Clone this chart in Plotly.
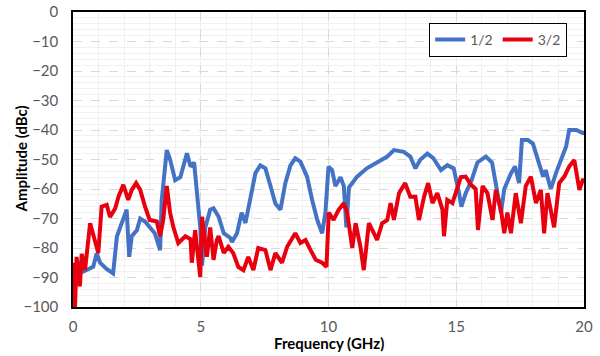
import plotly.graph_objects as go

# Series 1/2 (blue)
freq_half = [0.0, 0.14, 0.4, 0.79, 0.93, 1.06, 1.3, 1.57, 1.72, 1.97, 2.1, 2.2, 2.3, 2.5, 2.63, 2.82,
             3.02, 3.2, 3.41, 3.47, 3.67, 3.8, 4.0, 4.2, 4.46, 4.6, 4.74, 4.85, 4.98, 5.05, 5.18, 5.37,
             5.5, 5.7, 5.9, 6.16, 6.22, 6.42, 6.6, 6.75, 6.94, 7.14, 7.33, 7.53, 7.73, 7.92, 8.12, 8.31,
             8.51, 8.7, 8.9, 9.16, 9.36, 9.56, 9.75, 9.88, 10.0, 10.14, 10.27, 10.47, 10.6, 10.7, 10.8,
             10.98, 11.12, 11.5, 11.9, 12.3, 12.56, 12.95, 13.2, 13.4, 13.6, 13.87, 14.1, 14.4, 14.65,
             14.9, 15.1, 15.2, 15.37, 15.6, 15.83, 16.16, 16.4, 16.6, 16.75, 16.88, 17.14, 17.3, 17.46,
             17.57, 17.8, 18.0, 18.18, 18.4, 18.5, 18.7, 18.9, 19.1, 19.3, 19.42, 19.7, 19.95, 20.0]
amp_half = [-87, -88.5, -88, -86.4, -81.8, -85, -87, -88.6, -76, -70, -67, -83, -76, -74, -70, -71,
            -73, -75, -80.7, -64, -46.8, -50, -57, -56, -47.9, -52.4, -51, -62.6, -73, -86, -73, -67,
            -66.5, -69.4, -75, -76.6, -78, -75, -68, -71.5, -62.6, -54.6, -52, -53, -59, -64.9, -67, -58,
            -52, -49.6, -50.7, -55.8, -63.7, -70.5, -75, -68, -52.4, -53.6, -59, -56, -59, -73, -59.5,
            -57.6, -55.8, -53, -51, -49, -46.8, -47.4, -49, -53, -50, -48, -49.5, -53.6, -51.9,
            -53, -61, -66, -61.4, -57, -51, -49, -51, -60, -68, -60, -54.7, -52.4, -58,
            -43.4, -43.4, -44.6, -50, -55.8, -53.6, -60, -54.7, -50, -45.6, -40, -40, -41, -41]

# Series 3/2 (red)
freq_3half = [0.0, 0.08, 0.14, 0.27, 0.34, 0.47, 0.67, 0.8, 0.99, 1.12, 1.32, 1.45, 1.65, 1.78, 1.97,
              2.16, 2.3, 2.47, 2.63, 2.82, 3.0, 3.28, 3.41, 3.53, 3.67, 3.8, 3.93, 4.12, 4.4, 4.6, 4.65,
              4.78, 4.98, 5.05, 5.24, 5.37, 5.5, 5.63, 5.7, 5.9, 6.08, 6.27, 6.47, 6.67, 6.86, 7.06,
              7.25, 7.53, 7.73, 7.92, 8.18, 8.38, 8.7, 8.9, 9.1, 9.3, 9.5, 9.75, 9.92, 10.01, 10.2,
              10.4, 10.6, 10.73, 10.93, 11.06, 11.25, 11.38, 11.58, 11.78, 11.9, 12.1, 12.3, 12.43,
              12.56, 12.76, 13.0, 13.2, 13.4, 13.54, 13.74, 13.9, 14.07, 14.26, 14.46, 14.52, 14.65,
              14.85, 14.98, 15.18, 15.37, 15.57, 15.76, 15.85, 16.03, 16.22, 16.42, 16.55, 16.75,
              16.88, 17.0, 17.14, 17.33, 17.53, 17.72, 17.92, 18.12, 18.31, 18.44, 18.57, 18.83,
              19.03, 19.23, 19.42, 19.62, 19.82, 19.95, 20.0]
amp_3half = [-85, -100, -83, -93, -82, -87.5, -71.6, -76, -81.7, -66, -65.4, -69.5, -66.6, -62.6, -58.6,
             -63.7, -60.3, -58, -60.3, -66, -70.5, -71, -76, -70.5, -59, -68, -73, -78.3, -76, -77, -85,
             -74, -89.8, -69.4, -83, -73, -84, -77.3, -76, -81.7, -79.6, -81.7, -86.4, -87.5, -83, -87.5,
             -80, -80.7, -87.5, -81.7, -85, -79.6, -75, -78.3, -77.3, -80.7, -84, -85, -86.4, -68, -70.5,
             -67, -64.8, -68, -80, -71.6, -79.6, -87.5, -71.6, -75, -77.3, -71.6, -70.5, -64.8,
             -70.5, -61.4, -58, -62.6, -62.6, -70.5, -62.6, -58, -64.8, -61.4, -67, -76, -63.7,
             -64.8, -61.4, -56, -55.8, -58.5, -60, -73.9, -59, -61.4, -70.5, -60.3, -67,
             -75, -68, -75, -61.4, -71.6, -59, -55.8, -64.8, -60.3, -75, -61.4, -73,
             -58, -55.8, -52.4, -50.2, -60.3, -57, -57]

FONT = "Lato"
GRAY = "#595959"

fig = go.Figure()
fig.add_trace(go.Scatter(x=freq_half, y=amp_half, mode="lines", name="1/2",
                         line=dict(color="#4472C4", width=4)))
fig.add_trace(go.Scatter(x=freq_3half, y=amp_3half, mode="lines", name="3/2",
                         line=dict(color="#E8000F", width=4)))

fig.update_layout(
    width=600, height=356,
    margin=dict(l=73, r=16, t=12, b=49, autoexpand=False),
    paper_bgcolor="white", plot_bgcolor="white",
    font=dict(family=FONT, size=15, color=GRAY),
    showlegend=True,
    legend=dict(orientation="h", x=0.967, xanchor="right", y=0.963, yanchor="top",
                bordercolor="black", borderwidth=1, bgcolor="white",
                font=dict(size=14, color=GRAY), itemwidth=30, tracegroupgap=0),
    annotations=[
        dict(text="<b>Frequency (GHz)</b>", xref="paper", yref="paper", x=0.5, y=0,
             yshift=-36, xanchor="center", yanchor="middle", showarrow=False,
             font=dict(family=FONT, size=15, color="black")),
        dict(text="<b>Amplitude (dBc)</b>", xref="paper", yref="paper", x=0, y=0.5,
             xshift=-53, xanchor="center", yanchor="middle", textangle=-90, showarrow=False,
             font=dict(family=FONT, size=15, color="black")),
    ],
)
fig.update_xaxes(
    range=[0, 20], tickvals=[0, 5, 10, 15, 20], ticks="", automargin=False,
    showline=True, linecolor="black", linewidth=1.5, mirror=True,
    showgrid=True, gridcolor="#D9D9D9", griddash="dash", gridwidth=1,
    minor=dict(dtick=1, showgrid=True, gridcolor="#F0F0F0", gridwidth=1, griddash="solid"),
    zeroline=False, ticklabelstandoff=5,
    tickfont=dict(size=15, color=GRAY),
)
fig.update_yaxes(
    range=[-100, 0], dtick=10, ticks="", automargin=False,
    showline=True, linecolor="black", linewidth=1.5, mirror=True,
    showgrid=True, gridcolor="#D9D9D9", griddash="dash", gridwidth=1,
    minor=dict(dtick=2, showgrid=True, gridcolor="#F0F0F0", gridwidth=1, griddash="solid"),
    zeroline=False, ticklabelstandoff=10,
    tickfont=dict(size=15, color=GRAY),
)

fig.write_html("out.html", config={"displayModeBar": False},
               post_script="document.body.style.margin='0';")
